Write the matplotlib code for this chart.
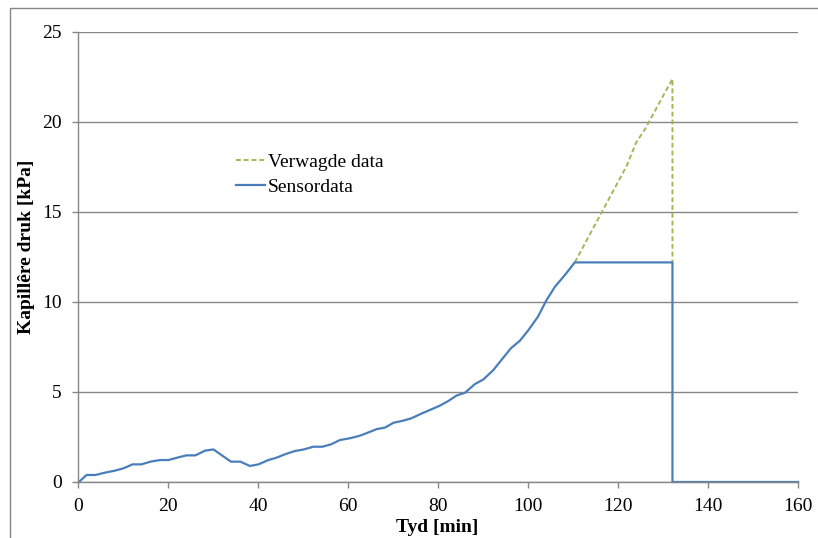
import matplotlib
matplotlib.use("Agg")
import matplotlib.pyplot as plt
from matplotlib.patches import Rectangle

# Sensor data (time in min, capillary pressure in kPa)
sensor_t = [0.2, 1.9, 3.9, 6.0, 8.2, 10.1, 12.1, 14.1, 16.1, 18.2, 20.1, 22.3, 24.1, 26.1,
            28.2, 30.1, 32.1, 34.0, 36.1, 38.2, 40.1, 42.3, 44.1, 46.2, 48.2, 50.2, 52.3,
            54.3, 56.2, 58.2, 60.4, 62.5, 64.0, 66.4, 68.2, 70.1, 72.3, 74.1, 76.4, 78.2,
            80.4, 82.3, 84.1, 86.0, 88.2, 90.1, 92.3, 94.1, 96.2, 98.2, 100.1, 102.2,
            104.1, 106.0, 108.2, 110.4, 132.1, 132.1, 160.0]
sensor_p = [0.0, 0.39, 0.39, 0.52, 0.63, 0.76, 0.98, 0.98, 1.13, 1.22, 1.22, 1.37, 1.48, 1.48,
            1.74, 1.81, 1.46, 1.13, 1.13, 0.89, 0.98, 1.22, 1.35, 1.56, 1.72, 1.81, 1.96,
            1.96, 2.09, 2.33, 2.43, 2.56, 2.70, 2.94, 3.02, 3.29, 3.41, 3.54, 3.81, 4.00,
            4.24, 4.50, 4.80, 4.96, 5.44, 5.70, 6.22, 6.78, 7.43, 7.85, 8.44, 9.18,
            10.10, 10.85, 11.50, 12.20, 12.20, 0.0, 0.0]

# Expected (extrapolated) data
expected_t = [110.4, 122.0, 124.0, 126.0, 132.1, 132.1]
expected_p = [12.20, 17.60, 18.85, 19.60, 22.40, 12.20]

x_ticks = [0, 20, 40, 60, 80, 100, 120, 140, 160]
y_ticks = [0, 5, 10, 15, 20, 25]

plt.rcParams['font.family'] = ['Liberation Serif', 'DejaVu Serif']

W, H = 818, 538
fig = plt.figure(figsize=(W / 100, H / 100), dpi=100)
ax = fig.add_axes([78 / W, 1 - 482 / H, (798 - 78) / W, (482 - 32) / H])

grid_c = '#868686'
ax.set_xlim(0, 160)
ax.set_ylim(0, 25)
ax.set_yticks(y_ticks)
ax.set_xticks(x_ticks)
ax.yaxis.grid(True, color=grid_c, linewidth=1.0)
ax.set_axisbelow(True)
for s in ['top', 'right']:
    ax.spines[s].set_visible(False)
for s in ['left', 'bottom']:
    ax.spines[s].set_color(grid_c)
    ax.spines[s].set_linewidth(1.0)
ax.tick_params(axis='both', direction='out', length=4.3, width=1.0, color=grid_c,
               labelsize=14, labelcolor='black')
ax.tick_params(axis='x', pad=7)
ax.tick_params(axis='y', pad=7.5)

ax.plot(expected_t, expected_p, color='#9BBB59', linestyle=(0, (2.5, 1.5)), linewidth=1.4,
        label='Verwagde data', clip_on=False)
ax.plot(sensor_t, sensor_p, color='#4A7EBB', linewidth=1.6, label='Sensordata', clip_on=False)

ax.set_xlabel('Tyd [min]', fontsize=14, fontweight='bold')
ax.set_ylabel('Kapillêre druk [kPa]', fontsize=14, fontweight='bold')
ax.xaxis.set_label_coords((437 - 78) / (798 - 78), -(527 - 482) / (482 - 32), transform=ax.transAxes)
ax.yaxis.set_label_coords(-(78 - 27) / (798 - 78), (482 - 247) / (482 - 32), transform=ax.transAxes)
ax.xaxis.label.set_va('center')
ax.yaxis.label.set_va('center')

fig.legend(loc='center left', bbox_to_anchor=(236 / W, 1 - 174.5 / H), frameon=False,
           fontsize=14, handlelength=1.5, handletextpad=0.15, borderpad=0,
           borderaxespad=0, labelspacing=0.35)

# Figure border (left and top visible)
fig.patches.append(Rectangle((9.5 / W, -0.1), 1.2, 1 - 7.5 / H + 0.1, transform=fig.transFigure,
                             fill=False, edgecolor=grid_c, linewidth=1.0))

fig.savefig('out.png', dpi=100)
